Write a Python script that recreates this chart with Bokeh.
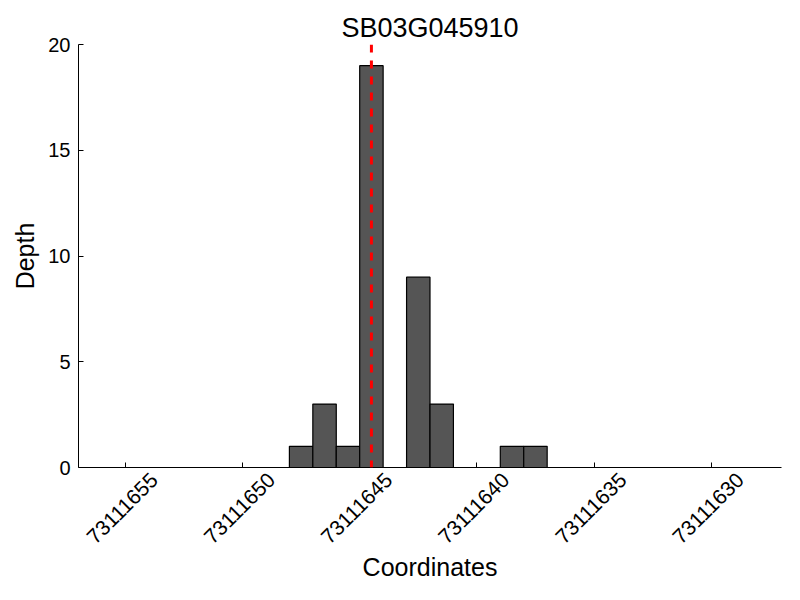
import math
from bokeh.plotting import figure
from bokeh.models import Range1d, Span, FixedTicker, LinearAxis, BasicTickFormatter
from bokeh.embed import file_html
from bokeh.resources import INLINE

# Data
title_text = "SB03G045910"
coord_start = [73111648, 73111647, 73111646, 73111645, 73111643, 73111642, 73111639, 73111638]
depth = [1, 3, 1, 19, 9, 3, 1, 1]
marker_pos = 73111644.5
x_ticks = [73111655, 73111650, 73111645, 73111640, 73111635, 73111630]
y_ticks = [0, 5, 10, 15, 20]

FONT = "Liberation Sans"
X_START, X_END = 73111657, 73111627
LABEL_SHIFT = 1.24  # centres the rotated tick labels on their ticks (matplotlib style)

p = figure(width=800, height=600, output_backend="svg", toolbar_location=None,
           x_range=Range1d(X_START, X_END), y_range=Range1d(0, 20),
           min_border_left=78, min_border_right=19, min_border_top=44, min_border_bottom=133)
p.extra_x_ranges = {"lbl": Range1d(X_START + LABEL_SHIFT, X_END + LABEL_SHIFT)}

p.title.text = title_text
p.title.text_font = FONT
p.title.text_font_size = "27px"
p.title.text_font_style = "normal"
p.title.text_color = "black"
p.title.align = "center"
p.title.offset = 0
p.title.standoff = 3

p.quad(left=coord_start, right=[c - 1 for c in coord_start], bottom=0, top=depth,
       fill_color="#555555", line_color="black", line_width=1.2)

p.add_layout(Span(location=marker_pos, dimension="height", line_color="red",
                  line_width=3, line_dash="8 8"))

p.grid.visible = False
p.outline_line_color = None

# main x axis: spine and inward ticks only
xa = p.xaxis[0]
xa.ticker = FixedTicker(ticks=x_ticks)
xa.major_label_overrides = {t: "" for t in x_ticks}
xa.major_label_text_font_size = "1px"
xa.major_label_standoff = 0
xa.minor_tick_line_color = None
xa.major_tick_in = 5
xa.major_tick_out = 0
xa.axis_line_color = "black"
xa.major_tick_line_color = "black"

# label axis: rotated tick labels and the axis title
la = LinearAxis(x_range_name="lbl", ticker=FixedTicker(ticks=x_ticks),
                formatter=BasicTickFormatter(use_scientific=False),
                axis_line_color=None, major_tick_line_color=None, minor_tick_line_color=None,
                major_tick_in=0, major_tick_out=0,
                major_label_orientation=math.pi / 4, major_label_standoff=9,
                major_label_text_font=FONT, major_label_text_font_size="21px",
                major_label_text_color="black",
                axis_label="Coordinates", axis_label_text_font=FONT,
                axis_label_text_font_size="25px", axis_label_text_font_style="normal",
                axis_label_text_color="black", axis_label_standoff=0)
p.add_layout(la, "below")

ya = p.yaxis[0]
ya.ticker = FixedTicker(ticks=y_ticks)
ya.minor_tick_line_color = None
ya.major_tick_in = 5
ya.major_tick_out = 0
ya.major_label_text_font = FONT
ya.major_label_text_font_size = "20px"
ya.major_label_text_color = "black"
ya.axis_label = "Depth"
ya.axis_label_text_font = FONT
ya.axis_label_text_font_size = "25px"
ya.axis_label_text_font_style = "normal"
ya.axis_label_text_color = "black"
ya.axis_line_color = "black"
ya.major_tick_line_color = "black"
ya.major_label_standoff = 8
ya.axis_label_standoff = 6

open("out.html", "w").write(file_html(p, INLINE))
